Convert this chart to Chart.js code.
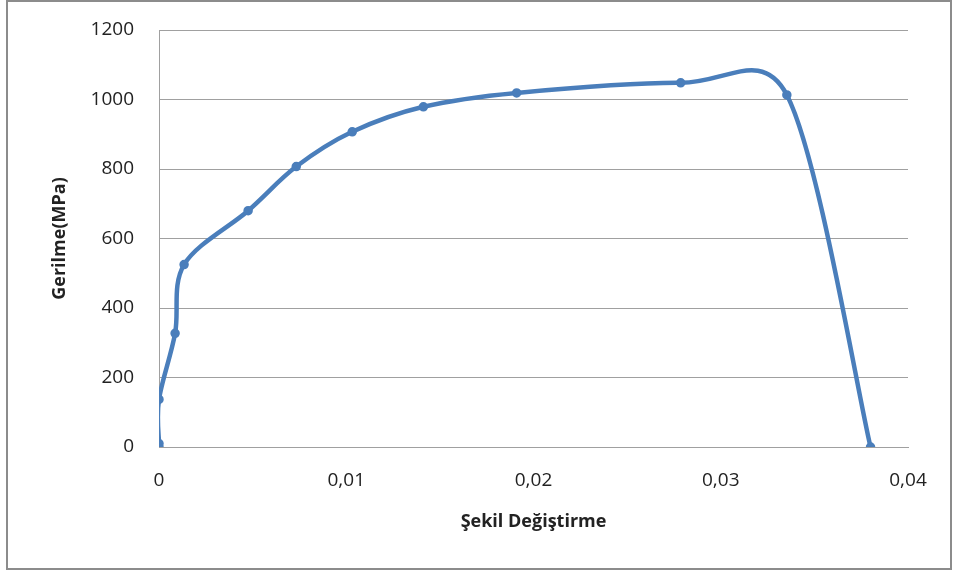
<!DOCTYPE html>
<html><head><meta charset="utf-8">
<script src="https://cdn.jsdelivr.net/npm/chart.js@4/dist/chart.umd.min.js"></script>
<style>
html,body{margin:0;padding:0;background:#fff;}
#wrap{position:relative;width:957px;height:571px;}
#frame{position:absolute;left:6px;top:0px;width:942px;height:566px;border:2px solid #8c8c8c;box-sizing:content-box;}
canvas{position:absolute;left:0;top:0;}
</style></head>
<body><div id="wrap"><div id="frame"></div><canvas id="c" width="957" height="571"></canvas></div>
<script>
const strain = [0, 0, 0, 0.00086, 0.00134, 0.00476, 0.00733, 0.01032, 0.01412, 0.0191, 0.02786, 0.03353, 0.0380];
const stress = [0, 10, 137, 327, 525, 680, 807, 907, 979, 1019, 1048, 1013, 0];
const xTicks = [0, 0.01, 0.02, 0.03, 0.04];
const yTicks = [0, 200, 400, 600, 800, 1000, 1200];
const xTitle = 'Şekil Değiştirme';
const yTitle = 'Gerilme(MPa)';

const pts = strain.map((x, i) => ({x: x, y: stress[i]}));
const fmt = v => String(v).replace('.', ',');
const font = "'Open Sans', 'DejaVu Sans', sans-serif";

// Excel-style smoothing: Bezier arms of 1/6 of the neighbour chord, capped at half the segment
const excelSmooth = {
  id: 'excelSmooth',
  beforeDatasetsDraw(chart) {
    const meta = chart.getDatasetMeta(0);
    const p = meta.data;
    const n = p.length;
    const dist = (a, b) => Math.hypot(b.x - a.x, b.y - a.y);
    for (let i = 0; i < n - 1; i++) {
      const p0 = p[Math.max(i - 1, 0)], p1 = p[i], p2 = p[i + 1], p3 = p[Math.min(i + 2, n - 1)];
      const half = dist(p1, p2) / 2, d02 = dist(p0, p2), d13 = dist(p1, p3);
      let f0 = 1 / 6, f1 = 1 / 6;
      if (d02 > 0 && d02 / 6 > half) f0 = half / d02;
      if (d13 > 0 && d13 / 6 > half) f1 = half / d13;
      p1.cp2x = p1.x + f0 * (p2.x - p0.x);
      p1.cp2y = p1.y + f0 * (p2.y - p0.y);
      p2.cp1x = p2.x - f1 * (p3.x - p1.x);
      p2.cp1y = p2.y - f1 * (p3.y - p1.y);
    }
    p[0].cp1x = p[0].x; p[0].cp1y = p[0].y;
    p[n - 1].cp2x = p[n - 1].x; p[n - 1].cp2y = p[n - 1].y;
    meta.dataset._pointsUpdated = true;
  }
};

new Chart(document.getElementById('c'), {
  type: 'scatter',
  plugins: [excelSmooth],
  data: {datasets: [{
    data: pts, showLine: true, borderColor: '#4a7ebb', backgroundColor: '#4a7ebb',
    borderWidth: 4.5, pointRadius: 2.5, pointHoverRadius: 2.5, tension: 0.4, fill: false
  }]},
  options: {
    responsive: false, animation: false,
    layout: {padding: {left: 49, right: 49, top: 30, bottom: 0}},
    plugins: {legend: {display: false}, tooltip: {enabled: false}},
    scales: {
      x: {
        type: 'linear', min: 0, max: 0.04,
        afterBuildTicks: a => { a.ticks = xTicks.map(v => ({value: v})); },
        afterFit: a => { a.height = 124; },
        ticks: {color: '#222', font: {family: font, size: 19}, padding: 22, callback: v => fmt(v)},
        grid: {display: false, drawTicks: false},
        border: {color: '#a0a0a0', width: 1},
        title: {display: true, text: xTitle, color: '#222', font: {family: font, size: 18, weight: 'bold'}, padding: {top: 14, bottom: 38}}
      },
      y: {
        min: 0, max: 1200,
        afterBuildTicks: a => { a.ticks = yTicks.map(v => ({value: v})); },
        afterFit: a => { a.width = 110; },
        ticks: {color: '#222', font: {family: font, size: 19}, padding: 4, callback: v => String(v)},
        grid: {color: '#a0a0a0', lineWidth: 1, drawTicks: true, tickLength: 21, tickColor: 'rgba(0,0,0,0)'},
        border: {color: '#a0a0a0', width: 1},
        title: {display: true, text: yTitle, color: '#222', font: {family: font, size: 18, weight: 'bold'}, padding: {top: 0, bottom: 0}}
      }
    }
  }
});
</script></body></html>
